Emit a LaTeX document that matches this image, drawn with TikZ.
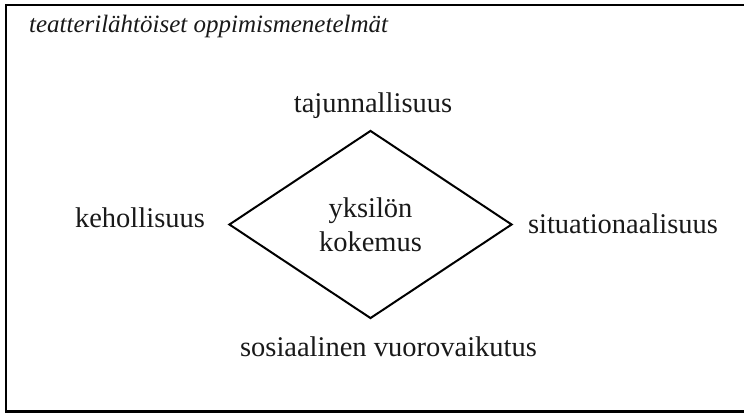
\documentclass[tikz,border=0pt]{standalone}
\usepackage{fontspec}
\setmainfont{Liberation Serif}
\usetikzlibrary{shapes.geometric}

\tikzset{
	lbl/.style={anchor=base, font=\fontsize{14.25}{17}\selectfont, text=black!90},
	kern/.style={draw, diamond, line width=1pt, minimum width=141.5pt, minimum height=94pt,
		inner sep=0pt, align=center, font=\fontsize{14.25}{17}\selectfont, text=black!90}
}

\begin{document}
\begin{tikzpicture}[line cap=round, x=0.5pt, y=0.5pt]
	\useasboundingbox (0,0) rectangle (744,413);
	\clip (0,0) rectangle (744,413);
	% frame and heading
	\draw [line width=1.25pt] (6,1.5) rectangle (760,408);
	\node (otsikko) [anchor=base west, font=\fontsize{12.5}{15}\selectfont\itshape, text=black!90] at (22,380) {teatterilähtöiset oppimismenetelmät};
	% the diamond with its four corners
	\node (kokemus) [kern] at (370.5,188.5) {yksilön\\kokemus};
	\node (tajunta) [lbl] at (373,300) {tajunnallisuus};
	\node (keho) [lbl] at (140,186) {kehollisuus};
	\node (situaatio) [lbl] at (623,180) {situationaalisuus};
	\node (sosiaali) [lbl] at (388.5,57) {sosiaalinen vuorovaikutus};
\end{tikzpicture}
\end{document}
